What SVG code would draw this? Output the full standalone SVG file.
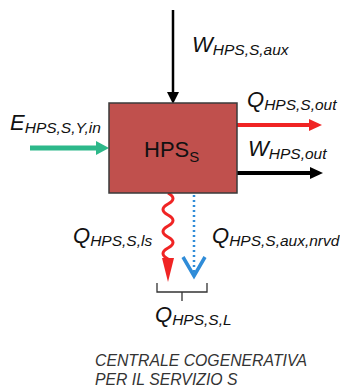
<svg xmlns="http://www.w3.org/2000/svg" width="340" height="387" viewBox="0 0 340 387">
<style>
.lbl{font-family:"Liberation Sans",Arial,sans-serif;font-style:italic;font-size:22px;fill:#111}
.sub{font-size:15.5px}
.cap{font-family:"Liberation Sans",Arial,sans-serif;font-style:italic;font-size:15.8px;fill:#333}
.node{font-family:"Liberation Sans",Arial,sans-serif;font-size:22px;fill:#111}
</style>
<rect width="340" height="387" fill="#fff"/>
<g id="connectors">
  <g id="w-aux-in">
    <line x1="173" y1="10" x2="173" y2="94" stroke="#000" stroke-width="2.5"/>
    <polygon points="167,92 179,92 173,104" fill="#000"/>
  </g>
  <g id="e-in">
    <line x1="30" y1="148" x2="98" y2="148" stroke="#2DB88A" stroke-width="5"/>
    <polygon points="96,141 96,155 109,148" fill="#2DB88A"/>
  </g>
  <g id="q-out">
    <line x1="237" y1="125" x2="312" y2="125" stroke="#F02424" stroke-width="4"/>
    <polygon points="309,119 309,131 322,125" fill="#F02424"/>
  </g>
  <g id="w-out">
    <line x1="237" y1="173" x2="312" y2="173" stroke="#000" stroke-width="4"/>
    <polygon points="310,167 310,179 323,173" fill="#000"/>
  </g>
  <g id="q-ls">
    <path d="M168 193 q10 5.5 0 11 q-10 5.5 0 11 q10 5.5 0 11 q-10 5.5 0 11 q10 5.5 0 11 q-10 5.5 0 11 V260" fill="none" stroke="#F02424" stroke-width="3"/>
    <polygon points="162,258 174,258 168,282" fill="#F02424"/>
  </g>
  <g id="q-aux-nrvd">
    <line x1="194" y1="195" x2="194" y2="274" stroke="#2F8CD8" stroke-width="2.5" stroke-dasharray="2 3"/>
    <polyline points="183,257 194,276 205,257" fill="none" stroke="#2F8CD8" stroke-width="3.5"/>
  </g>
  <g id="brace">
    <path d="M157 283 V292 H207 V283 M182 292 V301" fill="none" stroke="#333" stroke-width="1.3"/>
  </g>
</g>
<g id="hps">
  <rect x="109" y="103" width="128" height="90" fill="#C0504D" stroke="#3A3A3A" stroke-width="1.5"/>
  <text class="node" x="144" y="157">HPS<tspan font-size="15" dy="5">S</tspan></text>
</g>
<g id="labels">
  <text class="lbl" x="192" y="52">W<tspan class="sub" dy="3">HPS,S,aux</tspan></text>
  <text class="lbl" x="10" y="130">E<tspan class="sub" dy="3">HPS,S,Y,in</tspan></text>
  <text class="lbl" x="247" y="107">Q<tspan class="sub" dy="3">HPS,S,out</tspan></text>
  <text class="lbl" x="248" y="156">W<tspan class="sub" dy="3">HPS,out</tspan></text>
  <text class="lbl" x="73" y="243">Q<tspan class="sub" dy="3">HPS,S,ls</tspan></text>
  <text class="lbl" x="212" y="243">Q<tspan class="sub" dy="3">HPS,S,aux,nrvd</tspan></text>
  <text class="lbl" x="155" y="322">Q<tspan class="sub" dy="3">HPS,S,L</tspan></text>
  <text class="cap" x="95" y="366">CENTRALE COGENERATIVA</text>
  <text class="cap" x="95" y="385">PER IL SERVIZIO S</text>
</g>
</svg>
